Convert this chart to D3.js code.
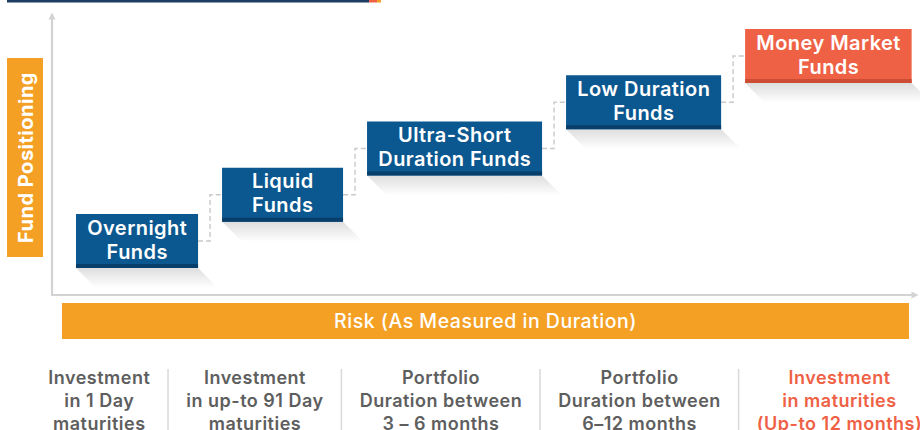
<!DOCTYPE html>
<html><head><meta charset="utf-8">
<script src="https://cdn.jsdelivr.net/npm/d3@7"></script>
<style>body{margin:0;background:#fff} svg{display:block}</style>
</head><body>
<svg id="c" width="920" height="430"></svg>
<script>
// ---- data ----
const funds = ["Overnight Funds", "Liquid Funds", "Ultra-Short Duration Funds", "Low Duration Funds", "Money Market Funds"];
const fundLines = [["Overnight", "Funds"], ["Liquid", "Funds"], ["Ultra-Short", "Duration Funds"], ["Low Duration", "Funds"], ["Money Market", "Funds"]];
const positioning = [1, 2, 3, 4, 5];
const highlighted = [false, false, false, false, true];
const maturityLines = [
  ["Investment", "in 1 Day", "maturities"],
  ["Investment", "in up-to 91 Day", "maturities"],
  ["Portfolio", "Duration between", "3 – 6 months"],
  ["Portfolio", "Duration between", "6–12 months"],
  ["Investment", "in maturities", "(Up-to 12 months)"]
];
const yAxisTitle = "Fund Positioning";
const xAxisTitle = "Risk (As Measured in Duration)";

// ---- styles ----
const FONT = "Inter, 'Open Sans', sans-serif";
const BLUE = "#0b578f", BLUE_D = "#083f6a";
const RED = "#ef6145", RED_D = "#cc4d33";
const ORANGE = "#f4a024";
const AXIS = "#d3d3d3";
const GREY_TXT = "#5e5e5e";

const svg = d3.select("#c");
const defs = svg.append("defs");

const grad = defs.append("linearGradient").attr("id", "shadow").attr("x1", 0).attr("y1", 0).attr("x2", 0).attr("y2", 1);
grad.append("stop").attr("offset", 0).attr("stop-color", "#000").attr("stop-opacity", 0.13);
grad.append("stop").attr("offset", 1).attr("stop-color", "#000").attr("stop-opacity", 0.0);

defs.append("marker").attr("id", "arr").attr("viewBox", "0 0 10 10").attr("refX", 5).attr("refY", 5)
  .attr("markerWidth", 3.2).attr("markerHeight", 3.2).attr("orient", "auto-start-reverse")
  .append("path").attr("d", "M0,0 L10,5 L0,10 Z").attr("fill", AXIS);

// header strip
svg.append("rect").attr("x", 7).attr("y", 0).attr("width", 362).attr("height", 2.5).attr("fill", "#1c3d62");
svg.append("rect").attr("x", 369).attr("y", 0).attr("width", 8).attr("height", 2.5).attr("fill", RED);
svg.append("rect").attr("x", 377).attr("y", 0).attr("width", 4).attr("height", 2.5).attr("fill", ORANGE);

// axes
const x0 = 52, yBase = 295;
svg.append("line").attr("x1", x0).attr("y1", yBase).attr("x2", x0).attr("y2", 16)
  .attr("stroke", AXIS).attr("stroke-width", 2.2).attr("marker-end", "url(#arr)");
svg.append("line").attr("x1", x0 - 1).attr("y1", yBase).attr("x2", 915).attr("y2", yBase)
  .attr("stroke", AXIS).attr("stroke-width", 2.2).attr("marker-end", "url(#arr)");

// y title box
svg.append("rect").attr("x", 7).attr("y", 58).attr("width", 36).attr("height", 199).attr("fill", ORANGE);
svg.append("text").attr("transform", "translate(32.5,157.5) rotate(-90)").attr("text-anchor", "middle")
  .attr("font-family", FONT).attr("font-weight", 700).attr("font-size", 20).attr("letter-spacing", 0.5)
  .attr("fill", "#fff").text(yAxisTitle);

// x title bar
svg.append("rect").attr("x", 62).attr("y", 303).attr("width", 847).attr("height", 36).attr("fill", ORANGE);
svg.append("text").attr("x", 485.5).attr("y", 327.5).attr("text-anchor", "middle")
  .attr("font-family", FONT).attr("font-weight", 500).attr("font-size", 19.5).attr("letter-spacing", 0.5)
  .attr("fill", "#fff").text(xAxisTitle);

// ---- boxes ----
const BOX_H = 54, PAD = 11, MINW = 121, GAP = 24, START = 76, FS = 20, LS = 0.45;
const y = d3.scaleLinear().domain([1, 5]).range([214, 29]);

// measure text widths
const meas = svg.append("text").attr("font-family", FONT).attr("font-weight", 600).attr("font-size", FS)
  .attr("letter-spacing", LS).attr("visibility", "hidden");
const widths = fundLines.map(ls => Math.max(MINW, d3.max(ls, l => { meas.text(l); return meas.node().getComputedTextLength(); }) + 2 * PAD));
meas.remove();
const lefts = [];
widths.forEach((w, i) => lefts.push(i === 0 ? START : lefts[i - 1] + widths[i - 1] + GAP));
const xPos = d3.scaleOrdinal().domain(funds).range(lefts);

const data = funds.map((f, i) => ({ f, lines: fundLines[i], level: positioning[i], hi: highlighted[i], w: widths[i] }));

// shadows
svg.append("g").selectAll("path").data(data).join("path")
  .attr("d", d => {
    const xl = xPos(d.f), xr = xl + d.w, yb = y(d.level) + BOX_H;
    return `M${xl},${yb} L${xr},${yb} L${xr + 20},${yb + 20} L${xl + 20},${yb + 20} Z`;
  })
  .attr("fill", "url(#shadow)");

// connectors
svg.append("g").selectAll("path").data(data.slice(0, -1)).join("path")
  .attr("d", (d, i) => {
    const n = data[i + 1];
    const xr = xPos(d.f) + d.w, xl = xPos(n.f);
    const mid = (xr + xl) / 2;
    return `M${xr},${y(d.level) + BOX_H / 2} H${mid} V${y(n.level) + BOX_H / 2} H${xl}`;
  })
  .attr("fill", "none").attr("stroke", "#c9c9c9").attr("stroke-width", 1.4).attr("stroke-dasharray", "5,3");

const g = svg.append("g").selectAll("g").data(data).join("g")
  .attr("transform", d => `translate(${xPos(d.f)},${y(d.level)})`);
g.append("rect").attr("width", d => d.w).attr("height", BOX_H).attr("fill", d => d.hi ? RED : BLUE);
g.append("rect").attr("y", BOX_H - 4).attr("width", d => d.w).attr("height", 4).attr("fill", d => d.hi ? RED_D : BLUE_D);
g.each(function (d) {
  const t = d3.select(this).append("text").attr("text-anchor", "middle")
    .attr("font-family", FONT).attr("font-weight", 600).attr("font-size", FS).attr("letter-spacing", LS).attr("fill", "#fff");
  d.lines.forEach((l, k) => t.append("tspan").attr("x", d.w / 2 + LS / 2).attr("y", 20.5 + k * 24).text(l));
});

// ---- bottom maturity labels ----
const BFS = 18, BLS = 0.5, CPAD = 18, CSTART = 30;
const m2 = svg.append("text").attr("font-family", FONT).attr("font-weight", 600).attr("font-size", BFS)
  .attr("letter-spacing", BLS).attr("visibility", "hidden");
const cw = maturityLines.map(ls => d3.max(ls, l => { m2.text(l); return m2.node().getComputedTextLength(); }) + 2 * CPAD);
m2.remove();
const cl = [];
cw.forEach((w, i) => cl.push(i === 0 ? CSTART : cl[i - 1] + cw[i - 1]));

maturityLines.forEach((ls, i) => {
  const t = svg.append("text").attr("text-anchor", "middle").attr("font-family", FONT).attr("font-weight", 600)
    .attr("font-size", BFS).attr("letter-spacing", BLS).attr("fill", highlighted[i] ? RED : GREY_TXT);
  ls.forEach((l, k) => t.append("tspan").attr("x", cl[i] + cw[i] / 2 + BLS / 2).attr("y", 384 + k * 23).text(l));
  if (i > 0) svg.append("line").attr("x1", cl[i]).attr("x2", cl[i]).attr("y1", 369).attr("y2", 430)
    .attr("stroke", "#d9d9d9").attr("stroke-width", 1.5);
});
</script>
</body></html>
